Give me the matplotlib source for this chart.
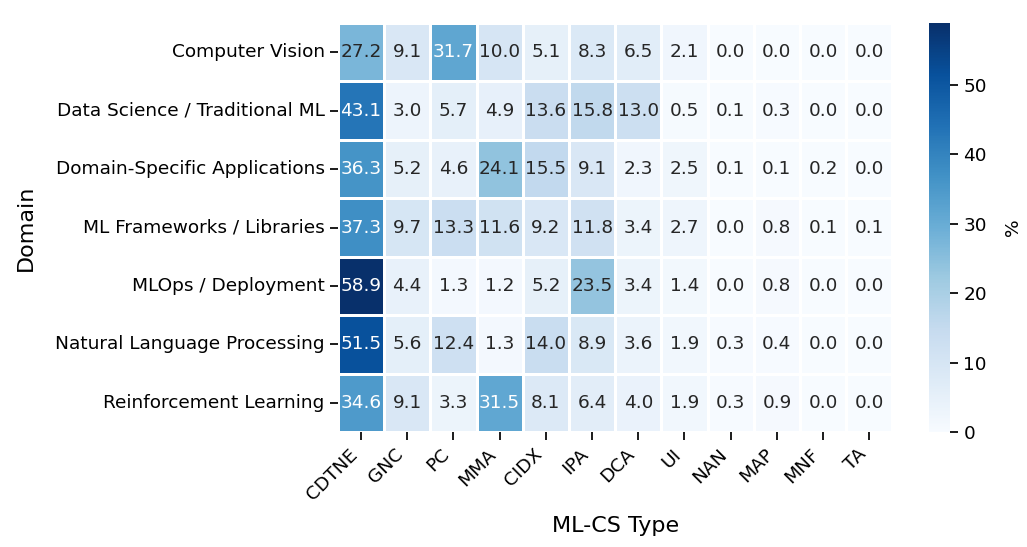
import numpy as np
import pandas as pd
import matplotlib
matplotlib.use("Agg")
import matplotlib.pyplot as plt
import seaborn as sns

# ==========================================
# DATA
# ==========================================
domains = [
    "Computer Vision",
    "Data Science / Traditional ML",
    "Domain-Specific Applications",
    "ML Frameworks / Libraries",
    "MLOps / Deployment",
    "Natural Language Processing",
    "Reinforcement Learning",
]
cs_types = ["CDTNE", "GNC", "PC", "MMA", "CIDX", "IPA", "DCA", "UI", "NAN", "MAP", "MNF", "TA"]

cv_vals = [27.2, 9.1, 31.7, 10.0, 5.1, 8.3, 6.5, 2.1, 0.0, 0.0, 0.0, 0.0]
ds_vals = [43.1, 3.0, 5.7, 4.9, 13.6, 15.8, 13.0, 0.5, 0.1, 0.3, 0.0, 0.0]
dsa_vals = [36.3, 5.2, 4.6, 24.1, 15.5, 9.1, 2.3, 2.5, 0.1, 0.1, 0.2, 0.0]
mlf_vals = [37.3, 9.7, 13.3, 11.6, 9.2, 11.8, 3.4, 2.7, 0.0, 0.8, 0.1, 0.1]
mlops_vals = [58.9, 4.4, 1.3, 1.2, 5.2, 23.5, 3.4, 1.4, 0.0, 0.8, 0.0, 0.0]
nlp_vals = [51.5, 5.6, 12.4, 1.3, 14.0, 8.9, 3.6, 1.9, 0.3, 0.4, 0.0, 0.0]
rl_vals = [34.6, 9.1, 3.3, 31.5, 8.1, 6.4, 4.0, 1.9, 0.3, 0.9, 0.0, 0.0]

df = pd.DataFrame(
    [cv_vals, ds_vals, dsa_vals, mlf_vals, mlops_vals, nlp_vals, rl_vals],
    index=domains, columns=cs_types,
)

# ==========================================
# PLOT
# ==========================================
fig = plt.figure(figsize=(10.27, 5.47), dpi=100)
ax = fig.add_axes([0.329, 0.210, 0.540, 0.748])
cax = fig.add_axes([0.9046, 0.210, 0.0205, 0.748])

sns.heatmap(
    df, ax=ax, cbar_ax=cax, cmap="Blues", annot=True, fmt=".1f",
    linewidths=1, linecolor="white",
    annot_kws={"fontsize": 13.3},
    cbar_kws={"label": "%"},
)

ax.set_xlabel("ML-CS Type", fontsize=16, labelpad=9)
ax.set_ylabel("Domain", fontsize=16, labelpad=14)
ax.tick_params(axis="both", labelsize=13.3, length=6, width=1.25)
plt.setp(ax.get_xticklabels(), rotation=45, ha="right")
plt.setp(ax.get_yticklabels(), rotation=0)

cax.tick_params(labelsize=13.3, length=6, width=1.25)
cax.set_ylabel("%", fontsize=13.3, labelpad=12)

fig.savefig("out.png", dpi=100)
plt.close(fig)
